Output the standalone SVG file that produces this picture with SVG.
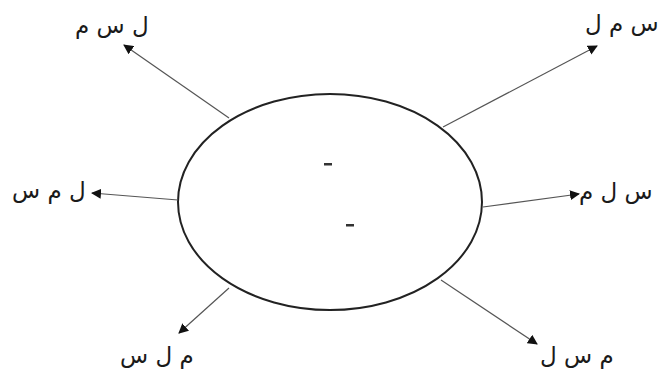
<svg xmlns="http://www.w3.org/2000/svg" width="662" height="372" viewBox="0 0 662 372">
<style>
.lbl{font-family:"DejaVu Sans","Noto Sans","Liberation Sans",sans-serif;font-size:23px;fill:#1a1a1a}
.conn line{stroke:#555;stroke-width:1.2;marker-end:url(#ah)}
</style>
<defs>
<marker id="ah" viewBox="0 0 10 10" refX="9" refY="5" markerWidth="10" markerHeight="10" markerUnits="userSpaceOnUse" orient="auto">
<path d="M0,0 L10,5 L0,10 z" fill="#111"/>
</marker>
</defs>
<rect width="662" height="372" fill="#fff"/>
<g id="center">
<ellipse cx="330" cy="202" rx="152" ry="108" fill="#fff" stroke="#222" stroke-width="2"/>
<rect x="324" y="163" width="8" height="2.5" fill="#333"/>
<rect x="346" y="224" width="8" height="2.5" fill="#333"/>
</g>
<g class="conn" id="connectors">
<line x1="229" y1="118" x2="124" y2="45"/>
<line x1="443" y1="127" x2="597" y2="46"/>
<line x1="178" y1="200" x2="92" y2="193"/>
<line x1="483" y1="207" x2="579" y2="194"/>
<line x1="229" y1="288" x2="179" y2="333"/>
<line x1="441" y1="280" x2="537" y2="344"/>
</g>
<g id="n1"><text class="lbl" x="75" y="33">ل س م</text></g>
<g id="n2"><text class="lbl" x="585" y="31">س م ل</text></g>
<g id="n3"><text class="lbl" x="12" y="198">ل م س</text></g>
<g id="n4"><text class="lbl" x="579" y="199">س ل م</text></g>
<g id="n5"><text class="lbl" x="120" y="363">م ل س</text></g>
<g id="n6"><text class="lbl" x="540" y="363">م س ل</text></g>
</svg>
